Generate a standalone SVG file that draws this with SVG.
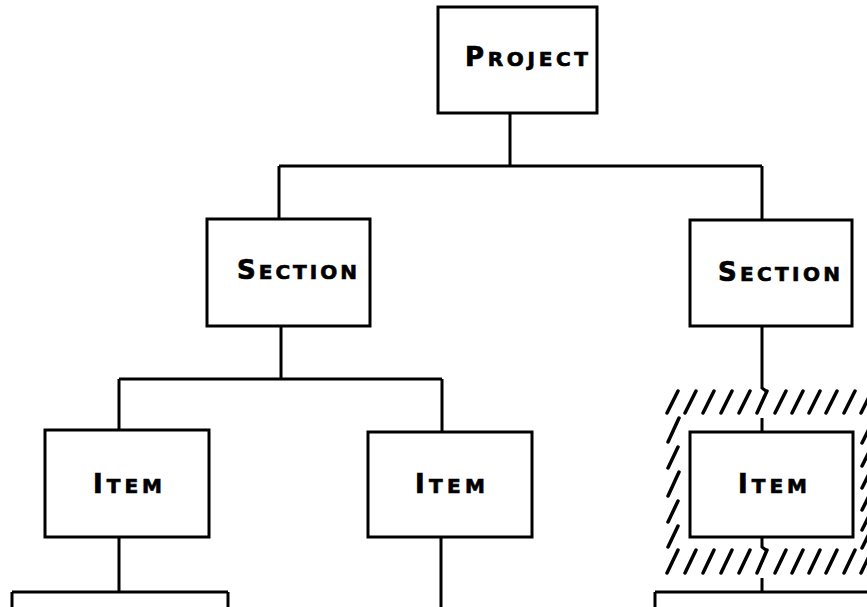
<svg xmlns="http://www.w3.org/2000/svg" width="867" height="607" viewBox="0 0 867 607">
<style>
.box{fill:#fff;stroke:#000;stroke-width:3}
.ln{fill:none;stroke:#000;stroke-width:3}
.h{fill:none;stroke:#000;stroke-width:3.5;stroke-linecap:round}
.t{font-family:"DejaVu Sans","Liberation Sans",sans-serif;font-weight:bold;fill:#000;stroke:#000;stroke-width:0.7}
.b{font-size:26px}
.s{font-size:20px}
</style>
<rect width="867" height="607" fill="#fff"/>
<g id="connectors">
<path class="ln" d="M510 113V166M279 166H762M279 166V219M762 166V220"/>
<path class="ln" d="M281 326V379M119 379H442M119 379V430M442 379V432"/>
<path class="ln" d="M119 537V592M12 592H228M12 592V607M228 592V607"/>
<path class="ln" d="M441 537V607"/>
<path class="ln" d="M762 326V388L766 391M762 418V432"/>
<path class="ln" d="M762 537V547L766 550M762 578V592M655 592H867M655 592V607"/>
</g>
<g id="hatch">
<path class="h" d="M667 413L678 391M685 413L696 391M703 413L714 391M721 413L732 391M739 413L750 391M757 413L767 391M775 413L786 391M792 413L803 391M809 413L820 391M826 413L837 391M844 413L855 391M861 413L872 391"/>
<path class="h" d="M667 573L678 550M685 573L696 550M703 573L714 550M721 573L732 550M739 573L750 550M757 573L767 550M775 573L786 550M792 573L803 550M809 573L820 550M826 573L837 550M844 573L855 550M861 573L872 550"/>
<path class="h" d="M668 442L679 418M668 468L678 447M668 496L679 472M668 522L678 501M668 547L678 526"/>
<path class="h" d="M862 443L873 421M862 466L873 444M862 488L873 466M862 510L873 488M862 530L873 508M862 548L873 526"/>
</g>
<g id="project">
<rect class="box" x="438" y="7" width="159" height="106"/>
<text class="t" x="465" y="66" textLength="123" lengthAdjust="spacing"><tspan class="b">P</tspan><tspan class="s">ROJECT</tspan></text>
</g>
<g id="section1">
<rect class="box" x="207" y="219" width="163" height="107"/>
<text class="t" x="237" y="279" textLength="120" lengthAdjust="spacing"><tspan class="b">S</tspan><tspan class="s">ECTION</tspan></text>
</g>
<g id="section2">
<rect class="box" x="690" y="220" width="162" height="106"/>
<text class="t" x="718" y="281" textLength="122" lengthAdjust="spacing"><tspan class="b">S</tspan><tspan class="s">ECTION</tspan></text>
</g>
<g id="item1">
<rect class="box" x="45" y="430" width="164" height="107"/>
<text class="t" x="93" y="493" textLength="69" lengthAdjust="spacing"><tspan class="b">I</tspan><tspan class="s">TEM</tspan></text>
</g>
<g id="item2">
<rect class="box" x="368" y="432" width="164" height="105"/>
<text class="t" x="415" y="493" textLength="70" lengthAdjust="spacing"><tspan class="b">I</tspan><tspan class="s">TEM</tspan></text>
</g>
<g id="item3">
<rect class="box" x="690" y="432" width="163" height="105"/>
<text class="t" x="738" y="493" textLength="69" lengthAdjust="spacing"><tspan class="b">I</tspan><tspan class="s">TEM</tspan></text>
</g>
</svg>
